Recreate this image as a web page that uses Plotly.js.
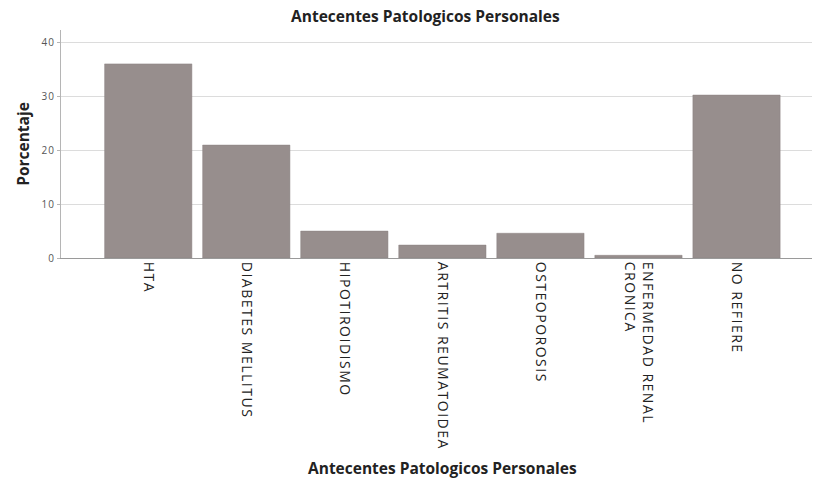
<!DOCTYPE html>
<html>
<head>
<meta charset="utf-8">
<script src="https://cdn.plot.ly/plotly-3.0.1.min.js"></script>
<style>
html,body{margin:0;padding:0;background:#fff;}
#chart{width:818px;height:482px;}
#chart .xtick text{letter-spacing:1.5px;}
#chart .ytick text{letter-spacing:1px;}
</style>
</head>
<body>
<div id="chart"></div>
<script>
const categories = ["HTA", "DIABETES MELLITUS", "HIPOTIROIDISMO", "ARTRITIS REUMATOIDEA", "OSTEOPOROSIS", "ENFERMEDAD RENAL<br>CRONICA", "NO REFIERE"];
const porcentaje = [36.1, 21.0, 5.0, 2.4, 4.6, 0.5, 30.3];
const yTicks = [0, 10, 20, 30, 40];
const chartTitle = "Antecentes Patologicos Personales";
const xTitle = "Antecentes Patologicos Personales";
const yTitle = "Porcentaje";

const trace = {
  type: "bar",
  x: categories,
  y: porcentaje,
  marker: {color: "#978e8d", line: {color: "#8a8281", width: 0.5}},
  hoverinfo: "x+y"
};

const layout = {
  width: 818, height: 482,
  margin: {l: 61, r: 6, t: 30, b: 224},
  paper_bgcolor: "#fff", plot_bgcolor: "#fff",
  bargap: 0.11,
  showlegend: false,
  font: {family: "Open Sans, Noto Sans, sans-serif", color: "#222"},
  title: {text: "<b>" + chartTitle + "</b>", font: {size: 15.5, color: "#222"}, x: 0.52, xanchor: "center", y: 0.965, yanchor: "middle"},
  xaxis: {
    type: "category",
    range: [-0.89, 6.77],
    tickangle: 90,
    tickfont: {size: 14, color: "#222"},
    showgrid: false,
    showline: true, linecolor: "#9a9a9a", linewidth: 1,
    ticks: "",
    automargin: false
  },
  yaxis: {
    range: [0, 42.4],
    tickvals: yTicks,
    ticktext: yTicks.map(String),
    tickfont: {size: 10, color: "#555"},
    showgrid: true, gridcolor: "#dcdcdc", gridwidth: 1,
    showline: true, linecolor: "#b5b5b5", linewidth: 1,
    ticks: "outside", ticklen: 3, tickcolor: "#b5b5b5",
    zeroline: false,
    title: {text: "<b>" + yTitle + "</b>", font: {size: 15.5, color: "#222"}, standoff: 10},
    automargin: false
  },
  annotations: [{
    text: "<b>" + xTitle + "</b>",
    xref: "paper", yref: "paper",
    x: 0.508, y: (258 - 468) / 228,
    xanchor: "center", yanchor: "middle",
    showarrow: false,
    font: {size: 15.5, color: "#222"}
  }]
};

Plotly.newPlot("chart", [trace], layout, {displayModeBar: false, staticPlot: true});
</script>
</body>
</html>
